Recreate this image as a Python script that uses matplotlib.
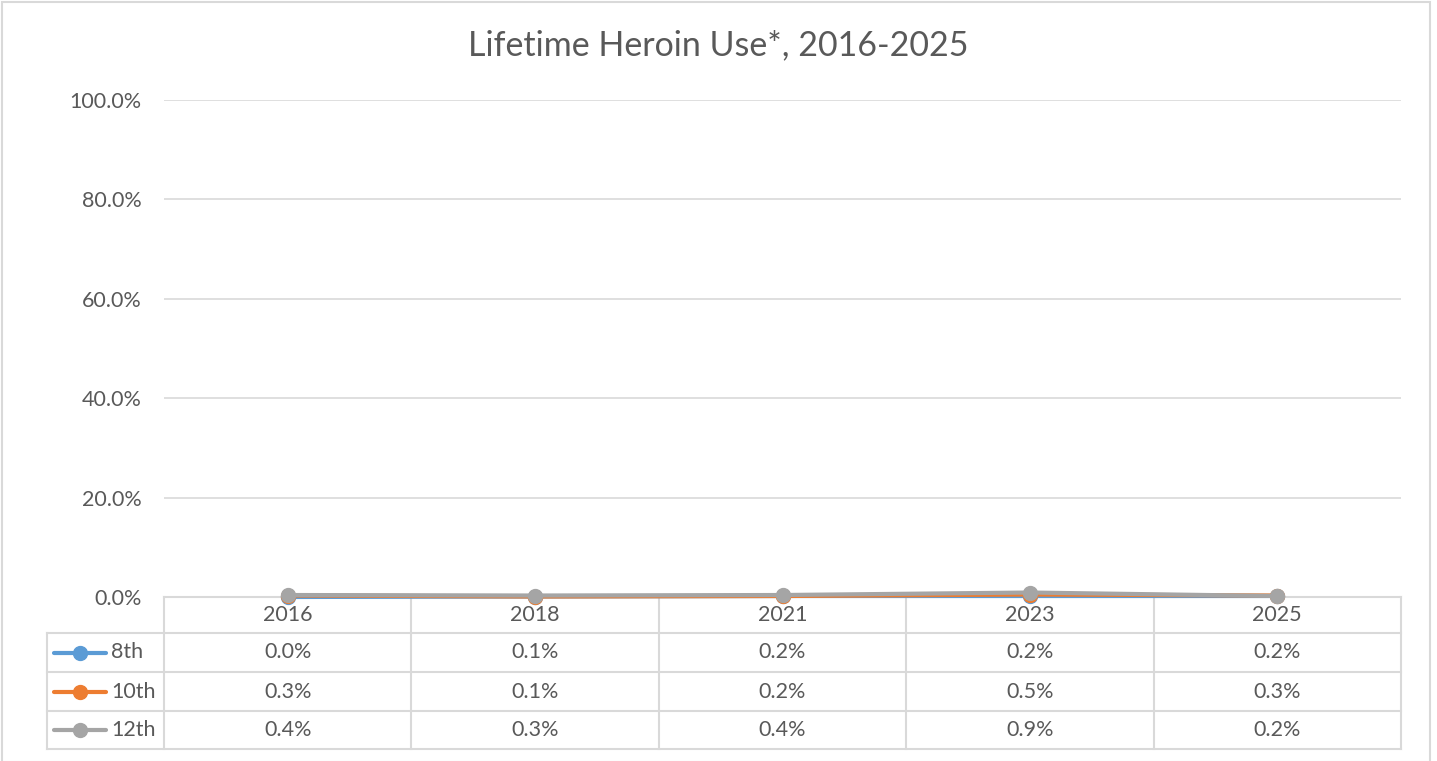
import matplotlib.pyplot as plt
from matplotlib.lines import Line2D
from matplotlib.patches import Rectangle

plt.rcParams['font.family'] = ['Lato', 'DejaVu Sans']

# Data
years = ['2016', '2018', '2021', '2023', '2025']
grades = ['8th', '10th', '12th']
use_8th = [0.0, 0.1, 0.2, 0.2, 0.2]
use_10th = [0.3, 0.1, 0.2, 0.5, 0.3]
use_12th = [0.4, 0.3, 0.4, 0.9, 0.2]
y_ticks = [0, 20, 40, 60, 80, 100]

series = [use_8th, use_10th, use_12th]
colors = ['#5B9BD5', '#ED7D31', '#A5A5A5']
text_col = '#595959'
grid_col = '#D9D9D9'
fs = 15.5
line_w = 3.0
mark_s = 10

W, H = 1437, 761
fig = plt.figure(figsize=(W / 100, H / 100), dpi=100)

# layout in pixels
left, right = 164, 1401
top, bottom = 100, 597
legend_left = 47
row_edges = [597, 633, 672, 711, 749]

ax = fig.add_axes([left / W, 1 - bottom / H, (right - left) / W, (bottom - top) / H])
x = range(len(years))
for vals, c in zip(series, colors):
    ax.plot(x, vals, color=c, lw=line_w, marker='o', ms=mark_s, solid_capstyle='round',
            zorder=3, clip_on=False)
ax.set_xlim(-0.5, len(years) - 0.5)
ax.set_ylim(0, 100)
ax.set_yticks(y_ticks)
ax.set_yticklabels([f'{v:.1f}%' for v in y_ticks])
ax.tick_params(axis='y', length=0, pad=16, labelsize=fs, labelcolor=text_col)
ax.set_xticks([])
ax.grid(axis='y', color=grid_col, lw=1.2)
ax.set_axisbelow(True)
for s in ['top', 'right', 'left']:
    ax.spines[s].set_visible(False)
ax.spines['bottom'].set_color(grid_col)
ax.spines['bottom'].set_linewidth(1.5)
ax.spines['bottom'].set_zorder(1)
ax.patch.set_alpha(0)

fig.text(0.5, 1 - 45 / H, 'Lifetime Heroin Use*, 2016-2025', ha='center', va='center',
         fontsize=24.5, color=text_col)

# overlay axes in pixel coordinates for the data table
tab = fig.add_axes([0, 0, 1, 1], zorder=-1)
tab.set_xlim(0, W)
tab.set_ylim(H, 0)
tab.axis('off')

col_w = (right - left) / len(years)
col_edges = [left + i * col_w for i in range(len(years) + 1)]
lw = 1.5
for xe in col_edges:
    tab.add_line(Line2D([xe, xe], [row_edges[0], row_edges[-1]], color=grid_col, lw=lw))
tab.add_line(Line2D([legend_left, legend_left], [row_edges[1], row_edges[-1]], color=grid_col, lw=lw))
for ye in row_edges[1:]:
    tab.add_line(Line2D([legend_left, right], [ye, ye], color=grid_col, lw=lw))

for i, yr in enumerate(years):
    cx = left + (i + 0.5) * col_w
    tab.text(cx, (row_edges[0] + row_edges[1]) / 2, yr, ha='center', va='center',
             fontsize=fs, color=text_col)

for r, (g, vals, c) in enumerate(zip(grades, series, colors)):
    cy = (row_edges[r + 1] + row_edges[r + 2]) / 2
    tab.add_line(Line2D([54, 106], [cy, cy], color=c, lw=line_w, solid_capstyle='round'))
    tab.plot([80], [cy], marker='o', ms=mark_s, color=c)
    tab.text(111, cy, g, ha='left', va='center', fontsize=fs, color=text_col)
    for i, v in enumerate(vals):
        cx = left + (i + 0.5) * col_w
        tab.text(cx, cy, f'{v:.1f}%', ha='center', va='center', fontsize=fs, color=text_col)

# chart border
tab.add_patch(Rectangle((1.5, 1.5), 1428, 760, fill=False, ec=grid_col, lw=1.5))

fig.savefig('out.png', dpi=100)
